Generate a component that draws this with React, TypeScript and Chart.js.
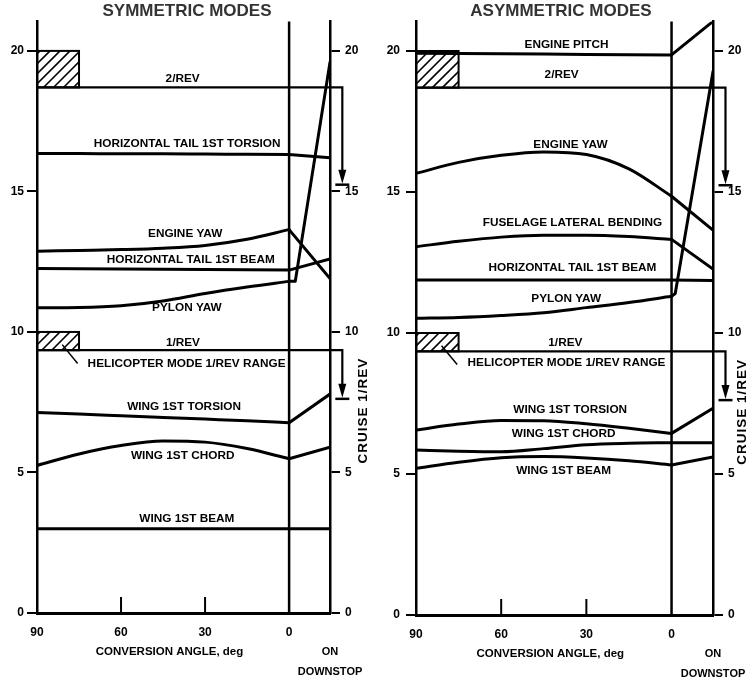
import React, { useEffect, useRef } from "react";
import { Chart, registerables } from "chart.js";

Chart.register(...registerables);

// ---------- axes ----------
const ANGLES = [90, 75, 60, 45, 30, 15, 0];
const ON_DOWNSTOP = -14.6; // position of the "ON DOWNSTOP" column on the angle axis
const X_TICKS = [90, 60, 30, 0];
const INNER_X_TICKS = [60, 30];
const Y_TICKS = [0, 5, 10, 15, 20];
const Y_MAX = 21.05;

// ---------- rotor harmonics ----------
const TWO_REV = 18.7;
const ONE_REV = 9.35;
const CRUISE_TWO_REV = 15.24;
const CRUISE_ONE_REV = 7.62;
const CRUISE_ARROW_X = -19;
const HELI_RANGE_ANGLES = [90, 75];
const HELI_2REV_TOP = 20;
const HELI_1REV_TOP = 10;

// ---------- symmetric modes (values at 90,75,60,45,30,15,0 deg, then on downstop) ----------
const SYM_HT_TORSION = [16.35, 16.35, 16.34, 16.34, 16.33, 16.32, 16.31, 16.2];
const SYM_ENGINE_YAW = [12.87, 12.9, 12.93, 12.98, 13.08, 13.3, 13.64, 11.9];
const SYM_HT_BEAM = [12.26, 12.25, 12.24, 12.23, 12.22, 12.21, 12.2, 12.6];
const SYM_PYLON_YAW = [10.86, 10.87, 10.93, 11.1, 11.37, 11.6, 11.8, 19.6];
const SYM_PYLON_JOG = [-2.2, 11.8];
const SYM_WING_TORSION = [7.13, 7.08, 7.02, 6.96, 6.9, 6.84, 6.77, 7.79];
const SYM_WING_CHORD = [5.25, 5.66, 5.96, 6.12, 6.08, 5.85, 5.49, 5.9];
const SYM_WING_BEAM = [3.0, 3.0, 3.0, 3.0, 3.0, 3.0, 3.0, 3.0];

// ---------- asymmetric modes ----------
const ASYM_ENGINE_PITCH = [19.92, 19.91, 19.9, 19.89, 19.88, 19.87, 19.86, 21.05];
const ASYM_ENGINE_YAW = [15.66, 16.05, 16.3, 16.42, 16.33, 15.82, 14.85, 13.65];
const ASYM_FUSELAGE_LAT = [13.06, 13.25, 13.4, 13.47, 13.47, 13.42, 13.32, 12.27];
const ASYM_HT_BEAM = [11.88, 11.88, 11.88, 11.88, 11.88, 11.88, 11.88, 11.86];
const ASYM_PYLON_YAW = [10.52, 10.55, 10.62, 10.72, 10.9, 11.08, 11.3, 19.27];
const ASYM_PYLON_JOG = [-1.3, 11.4];
const ASYM_WING_TORSION = [6.56, 6.77, 6.9, 6.89, 6.78, 6.62, 6.44, 7.33];
const ASYM_WING_CHORD = [5.85, 5.81, 5.79, 5.9, 6.04, 6.09, 6.11, 6.11];
const ASYM_WING_BEAM = [5.2, 5.42, 5.58, 5.62, 5.57, 5.47, 5.32, 5.6];

// ---------- mode labels: [text, angle, value] ----------
const SYM_LABELS: [string, number, number][] = [
  ["2/REV", 38, 19.0],
  ["HORIZONTAL TAIL 1ST TORSION", 36.4, 16.68],
  ["ENGINE YAW", 37.1, 13.5],
  ["HORIZONTAL TAIL 1ST BEAM", 35.1, 12.56],
  ["PYLON YAW", 36.5, 10.87],
  ["1/REV", 37.9, 9.63],
  ["HELICOPTER MODE 1/REV RANGE", 36.6, 8.86],
  ["WING 1ST TORSION", 37.5, 7.34],
  ["WING 1ST CHORD", 38, 5.6],
  ["WING 1ST BEAM", 36.5, 3.35],
];
const ASYM_LABELS: [string, number, number][] = [
  ["ENGINE PITCH", 37, 20.21],
  ["2/REV", 38.7, 19.15],
  ["ENGINE YAW", 35.6, 16.67],
  ["FUSELAGE LATERAL BENDING", 34.9, 13.91],
  ["HORIZONTAL TAIL 1ST BEAM", 34.9, 12.32],
  ["PYLON YAW", 37.1, 11.2],
  ["1/REV", 37.4, 9.66],
  ["HELICOPTER MODE 1/REV RANGE", 37, 8.93],
  ["WING 1ST TORSION", 35.7, 7.29],
  ["WING 1ST CHORD", 38, 6.41],
  ["WING 1ST BEAM", 38, 5.12],
];
const LEADER_START = [81, ONE_REV + 0.2];
const LEADER_END = [75.5, 8.88];

const FONT = '"Liberation Sans", Arial, Helvetica, sans-serif';
Chart.defaults.font.family = FONT;

type PanelSpec = {
  title: string;
  modes: { values: number[]; jog?: number[] }[];
  labels: [string, number, number][];
  yWidth: number;
  y2Width: number;
  xHeight: number;
  yPad: number;
  cruiseOffset: number;
  left: number;
};

const PANELS: PanelSpec[] = [
  {
    title: "SYMMETRIC MODES",
    modes: [
      { values: SYM_HT_TORSION },
      { values: SYM_ENGINE_YAW },
      { values: SYM_HT_BEAM },
      { values: SYM_PYLON_YAW, jog: SYM_PYLON_JOG },
      { values: SYM_WING_TORSION },
      { values: SYM_WING_CHORD },
      { values: SYM_WING_BEAM },
    ],
    labels: SYM_LABELS,
    yWidth: 37,
    y2Width: 44,
    xHeight: 74,
    yPad: 3,
    cruiseOffset: 33,
    left: 0,
  },
  {
    title: "ASYMMETRIC MODES",
    modes: [
      { values: ASYM_ENGINE_PITCH },
      { values: ASYM_ENGINE_YAW },
      { values: ASYM_FUSELAGE_LAT },
      { values: ASYM_HT_BEAM },
      { values: ASYM_PYLON_YAW, jog: ASYM_PYLON_JOG },
      { values: ASYM_WING_TORSION },
      { values: ASYM_WING_CHORD },
      { values: ASYM_WING_BEAM },
    ],
    labels: ASYM_LABELS,
    yWidth: 42,
    y2Width: 35,
    xHeight: 72,
    yPad: 6,
    cruiseOffset: 29,
    left: 374,
  },
];

const lineStyle = {
  borderColor: "#000",
  borderWidth: 3,
  pointRadius: 0,
  borderCapStyle: "round" as const,
  borderJoinStyle: "round" as const,
  fill: false,
};

function buildDatasets(spec: PanelSpec) {
  const ds: any[] = [];
  for (const m of spec.modes) {
    const v = m.values;
    ds.push({
      ...lineStyle,
      data: ANGLES.map((a, i) => ({ x: a, y: v[i] })),
      cubicInterpolationMode: "monotone",
    });
    const tail = [{ x: 0, y: v[ANGLES.length - 1] }];
    if (m.jog) tail.push({ x: m.jog[0], y: m.jog[1] });
    tail.push({ x: ON_DOWNSTOP, y: v[ANGLES.length] });
    ds.push({ ...lineStyle, data: tail, tension: 0 });
  }
  for (const [rev, cruise] of [
    [TWO_REV, CRUISE_TWO_REV],
    [ONE_REV, CRUISE_ONE_REV],
  ]) {
    ds.push({
      ...lineStyle,
      borderWidth: 2.2,
      borderCapStyle: "butt",
      borderJoinStyle: "miter",
      clip: false,
      tension: 0,
      data: [
        { x: 90, y: rev },
        { x: CRUISE_ARROW_X, y: rev },
        { x: CRUISE_ARROW_X, y: cruise + 0.3 },
      ],
    });
  }
  return ds;
}

function makePlugin(spec: PanelSpec) {
  return {
    id: "annotate",
    afterDatasetsDraw(chart: any) {
      const { ctx, chartArea: ca } = chart;
      const x = chart.scales.x;
      const y = chart.scales.y;
      const px = (v: number) => x.getPixelForValue(v);
      const py = (v: number) => y.getPixelForValue(v);
      const seg = (x1: number, y1: number, x2: number, y2: number) => {
        ctx.beginPath();
        ctx.moveTo(x1, y1);
        ctx.lineTo(x2, y2);
        ctx.stroke();
      };
      ctx.save();
      ctx.strokeStyle = "#000";
      ctx.fillStyle = "#000";
      ctx.lineCap = "butt";

      // vertical line at 0 deg
      ctx.lineWidth = 2.5;
      seg(px(0), ca.top, px(0), ca.bottom);

      // inner tick marks on the angle axis
      ctx.lineWidth = 2;
      for (const a of INNER_X_TICKS) seg(px(a), ca.bottom, px(a), ca.bottom - 16);

      // hatched helicopter-mode ranges
      for (const [bottom, top] of [
        [TWO_REV, HELI_2REV_TOP],
        [ONE_REV, HELI_1REV_TOP],
      ]) {
        const x1 = px(HELI_RANGE_ANGLES[0]);
        const x2 = px(HELI_RANGE_ANGLES[1]);
        const y1 = py(top);
        const y2 = py(bottom);
        ctx.lineWidth = 2;
        ctx.strokeRect(x1, y1, x2 - x1, y2 - y1);
        ctx.save();
        ctx.beginPath();
        ctx.rect(x1, y1, x2 - x1, y2 - y1);
        ctx.clip();
        ctx.lineWidth = 1.6;
        const h = y2 - y1;
        for (let s = x1 - h + 3; s < x2 + h; s += 10) seg(s, y2, s + h, y1);
        ctx.restore();
      }

      // leader line for the helicopter label
      ctx.lineWidth = 1.5;
      seg(px(LEADER_START[0]), py(LEADER_START[1]), px(LEADER_END[0]), py(LEADER_END[1]));

      // cruise arrows
      for (const cruise of [CRUISE_TWO_REV, CRUISE_ONE_REV]) {
        const ax = px(CRUISE_ARROW_X);
        const ay = py(cruise);
        ctx.beginPath();
        ctx.moveTo(ax, ay - 1);
        ctx.lineTo(ax - 4, ay - 15);
        ctx.lineTo(ax + 4, ay - 15);
        ctx.closePath();
        ctx.fill();
        ctx.lineWidth = 2.5;
        seg(ax - 7, ay, ax + 7, ay);
      }

      // mode labels
      ctx.font = `bold 11.8px ${FONT}`;
      ctx.textAlign = "center";
      ctx.textBaseline = "middle";
      for (const [t, a, v] of spec.labels) ctx.fillText(t, px(a), py(v));

      // axis titles
      ctx.font = `bold 11.5px ${FONT}`;
      ctx.fillText("CONVERSION ANGLE, deg", px(42.7), ca.bottom + 39);
      ctx.font = `bold 11px ${FONT}`;
      ctx.fillText("ON", px(ON_DOWNSTOP), ca.bottom + 39);
      ctx.fillText("DOWNSTOP", px(ON_DOWNSTOP), ca.bottom + 59);

      // right axis title
      ctx.save();
      ctx.translate(ca.right + spec.cruiseOffset, py(7.2));
      ctx.rotate(-Math.PI / 2);
      ctx.font = `bold 13.5px ${FONT}`;
      (ctx as any).letterSpacing = "1px";
      ctx.fillText("CRUISE 1/REV", 0, 0);
      ctx.restore();

      ctx.restore();
    },
  };
}

function yAxis(position: "left" | "right", width: number, padding: number) {
  return {
    type: "linear",
    position,
    min: 0,
    max: Y_MAX,
    afterBuildTicks: (s: any) => {
      s.ticks = Y_TICKS.map((v) => ({ value: v }));
    },
    afterFit: (s: any) => {
      s.width = width;
    },
    grid: {
      drawOnChartArea: false,
      drawTicks: true,
      tickLength: 10,
      color: "#000",
      lineWidth: 2,
    },
    border: { display: true, color: "#000", width: 2.5 },
    ticks: {
      color: "#000",
      padding,
      font: { size: 12, weight: "bold" },
    },
  };
}

function Panel({ spec }: { spec: PanelSpec }) {
  const ref = useRef<HTMLCanvasElement>(null);
  useEffect(() => {
    const chart = new Chart(ref.current as HTMLCanvasElement, {
      type: "line",
      data: { datasets: buildDatasets(spec) },
      options: {
        responsive: false,
        animation: false,
        devicePixelRatio: 1,
        layout: { padding: 0 },
        plugins: {
          legend: { display: false },
          tooltip: { enabled: false },
          title: {
            display: true,
            text: spec.title,
            color: "#333",
            font: { size: 17, weight: "bold" },
            padding: { top: 1, bottom: 0 },
          },
        },
        scales: {
          x: {
            type: "linear",
            reverse: true,
            min: ON_DOWNSTOP,
            max: 90,
            afterBuildTicks: (s: any) => {
              s.ticks = X_TICKS.map((v) => ({ value: v }));
            },
            afterFit: (s: any) => {
              s.height = spec.xHeight;
            },
            grid: { display: false, drawTicks: false },
            border: { display: true, color: "#000", width: 3 },
            ticks: {
              color: "#000",
              padding: 12,
              maxRotation: 0,
              font: { size: 12, weight: "bold" },
            },
          },
          y: yAxis("left", spec.yWidth, spec.yPad),
          y2: yAxis("right", spec.y2Width, 5),
        },
      } as any,
      plugins: [makePlugin(spec)],
    });
    return () => chart.destroy();
  }, [spec]);
  return (
    <canvas
      ref={ref}
      width={374}
      height={687}
      style={{ position: "absolute", left: spec.left, top: 0, width: 374, height: 687 }}
    />
  );
}

export default function App() {
  return (
    <div
      style={{
        position: "fixed",
        left: 0,
        top: 0,
        width: 748,
        height: 687,
        background: "#fff",
        overflow: "hidden",
      }}
    >
      {PANELS.map((p) => (
        <Panel key={p.title} spec={p} />
      ))}
    </div>
  );
}
